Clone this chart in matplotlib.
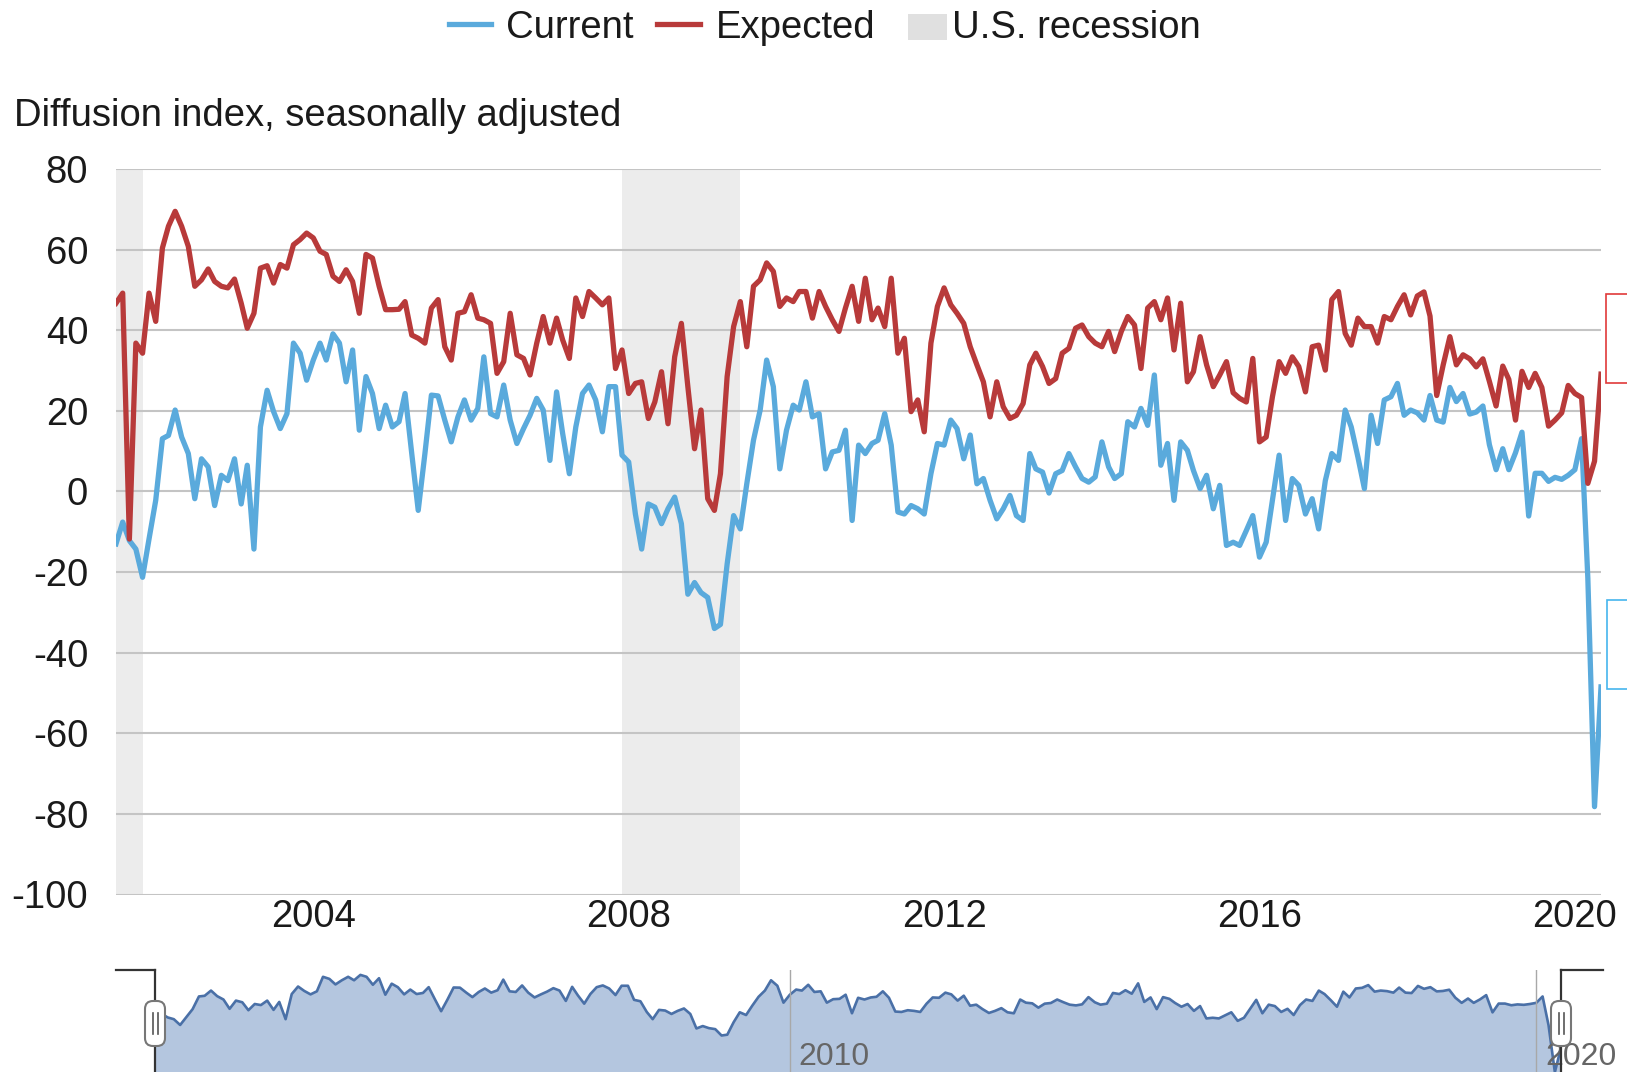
import numpy as np
import pandas as pd
import matplotlib
matplotlib.use("Agg")
import matplotlib.pyplot as plt
import matplotlib.dates as mdates
from matplotlib.lines import Line2D
from matplotlib.patches import Rectangle, FancyBboxPatch
from matplotlib.transforms import Affine2D, blended_transform_factory

plt.rcParams['font.family'] = ['Liberation Sans', 'DejaVu Sans']
plt.rcParams['axes.unicode_minus'] = False

# monthly data, Jul 2001 - May 2020
months = pd.date_range('2001-07-01', '2020-05-01', freq='MS')

current = [
    -13.0, -7.6, -12.2, -14.3, -21.3, -11.8,                               # 2001
    -2.2, 13.1, 13.9, 20.2, 13.5, 9.4, -1.8, 8.1, 6.1, -3.5, 4.0, 2.7,      # 2002
    8.1, -3.1, 6.5, -14.3, 16.0, 25.1, 19.8, 15.6, 19.3, 36.8, 34.3, 27.6,  # 2003
    32.6, 36.8, 32.6, 39.1, 36.8, 27.2, 35.1, 15.2, 28.5, 24.3, 15.6, 21.4,  # 2004
    16.0, 17.3, 24.3, 9.4, -4.7, 9.4, 23.9, 23.7, 17.7, 12.3, 18.5, 22.7,   # 2005
    17.7, 20.6, 33.4, 19.3, 18.5, 26.4, 17.7, 11.9, 15.6, 18.9, 23.1, 20.2,  # 2006
    7.7, 24.7, 14.4, 4.4, 16.0, 24.3, 26.4, 22.7, 14.8, 26.0, 26.0, 9.0,    # 2007
    7.3, -5.6, -14.3, -3.1, -3.9, -8.0, -4.3, -1.4, -8.0, -25.5, -22.6, -25.1,  # 2008
    -26.3, -34.0, -33.0, -18.0, -6.0, -9.3, 1.9, 12.7, 20.2, 32.6, 26.0, 5.6,   # 2009
    15.2, 21.4, 20.2, 27.2, 18.5, 19.3, 5.6, 9.8, 10.2, 15.2, -7.2, 11.5,   # 2010
    9.4, 11.9, 12.7, 19.3, 11.5, -5.1, -5.6, -3.5, -4.3, -5.6, 4.4, 11.9,   # 2011
    11.5, 17.7, 15.6, 8.1, 14.0, 1.9, 3.2, -2.2, -6.8, -4.3, -1.0, -6.0,    # 2012
    -7.2, 9.4, 5.6, 4.8, -0.4, 4.4, 5.2, 9.4, 6.1, 3.2, 2.3, 3.6,          # 2013
    12.3, 6.1, 3.2, 4.4, 17.3, 16.0, 20.6, 16.4, 28.9, 6.5, 11.9, -2.2,     # 2014
    12.3, 10.2, 5.2, 0.7, 4.0, -4.3, 1.5, -13.4, -12.6, -13.4, -9.7, -6.0,  # 2015
    -16.3, -12.6, -2.2, 9.0, -7.2, 3.2, 1.5, -5.6, -1.8, -9.3, 2.7, 9.4,    # 2016
    7.7, 20.2, 16.0, 8.5, 0.7, 18.9, 11.9, 22.7, 23.5, 26.8, 18.9, 20.2,    # 2017
    19.5, 17.7, 23.8, 17.7, 17.2, 25.8, 22.3, 24.3, 19.2, 19.7, 21.2, 11.6,  # 2018
    5.4, 10.6, 5.4, 9.6, 14.7, -6.1, 4.5, 4.5, 2.5, 3.5, 3.0, 4.0,          # 2019
    5.4, 13.1, -21.5, -78.2, -48.5,                                        # 2020
]

expected = [
    46.7, 49.2, -11.8, 36.8, 34.3, 49.2,
    42.2, 60.4, 65.8, 69.5, 65.8, 60.8, 50.9, 52.5, 55.2, 52.1, 50.9, 50.5,
    52.7, 46.7, 40.5, 44.2, 55.4, 56.0, 51.7, 56.3, 55.4, 61.2, 62.5, 64.1,
    62.9, 59.6, 58.8, 53.4, 52.1, 55.0, 52.1, 44.2, 58.8, 57.9, 50.9, 45.1,
    45.1, 45.2, 47.1, 38.8, 38.0, 36.8, 45.5, 47.6, 35.9, 32.6, 44.2, 44.6,
    48.8, 43.0, 42.6, 41.7, 29.3, 32.2, 44.2, 33.9, 33.0, 28.9, 36.8, 43.4,
    36.8, 43.0, 37.6, 33.0, 48.0, 43.4, 49.6, 48.0, 46.3, 48.0, 30.5, 35.1,
    24.3, 26.8, 27.2, 18.1, 22.2, 29.7, 16.8, 33.4, 41.7, 26.0, 10.6, 20.2,
    -1.8, -4.7, 4.4, 28.5, 40.9, 47.1, 35.9, 50.9, 52.5, 56.7, 54.6, 45.9,
    48.0, 47.1, 49.6, 49.6, 43.0, 49.6, 45.9, 42.6, 39.7, 45.5, 50.9, 42.2,
    52.9, 42.6, 45.5, 40.9, 52.9, 34.3, 38.0, 19.8, 22.7, 14.8, 36.8, 45.9,
    50.5, 46.3, 44.2, 41.7, 35.9, 31.4, 27.2, 18.5, 27.2, 21.0, 18.1, 18.9,
    21.8, 31.4, 34.3, 31.0, 26.8, 28.0, 34.3, 35.5, 40.5, 41.3, 38.4, 36.8,
    35.9, 39.7, 34.7, 39.7, 43.4, 41.3, 30.5, 45.5, 47.1, 42.6, 48.0, 35.1,
    46.7, 27.2, 29.7, 38.4, 31.4, 26.0, 28.9, 32.2, 24.5, 23.1, 22.2, 33.0,
    12.3, 13.5, 23.5, 32.2, 29.3, 33.4, 31.0, 24.7, 35.9, 36.3, 30.1, 47.6,
    49.6, 39.2, 36.3, 43.0, 40.9, 40.9, 36.8, 43.4, 42.6, 45.9, 48.8, 43.8,
    48.5, 49.5, 43.5, 23.8, 31.4, 38.4, 31.4, 33.9, 32.9, 30.9, 32.9, 27.3,
    21.2, 31.1, 27.8, 17.7, 29.8, 25.8, 29.3, 25.8, 16.2, 17.7, 19.5, 26.3,
    24.3, 23.3, 2.0, 7.5, 29.1,
]

recessions = [('2001-03-01', '2001-11-01'), ('2007-12-01', '2009-06-01')]
yticks = list(range(-100, 81, 20))
nav_years = [2010, 2020]

blue = '#5aaadc'
red = '#b83a3a'
shade = '#ececec'
txt = '#1a1a1a'
fs = 27.5

W, H, dpi = 1627, 1072, 100
fig = plt.figure(figsize=(W / dpi, H / dpi), dpi=dpi)
T = Affine2D().scale(1 / dpi) + fig.dpi_scale_trans   # pixel coords, origin bottom-left


def P(y):
    return H - y


# main chart
ax = fig.add_axes([116 / W, 1 - 894.5 / H, (1601 - 116) / W, (894.5 - 169) / H])
for a, b in recessions:
    ax.axvspan(pd.Timestamp(a), pd.Timestamp(b), color=shade, lw=0, zorder=0)
ax.plot(months, current, color=blue, lw=3.8, zorder=3)
ax.plot(months, expected, color=red, lw=3.8, zorder=4)
ax.set_xlim(months[0], months[-1])
ax.set_ylim(-100, 80)
ax.set_yticks(yticks)
ax.grid(axis='y', color='#c4c4c4', lw=1.5)
ax.set_axisbelow(True)
ax.xaxis.set_major_locator(mdates.YearLocator(4))
ax.xaxis.set_major_formatter(mdates.DateFormatter('%Y'))
for s in ax.spines.values():
    s.set_visible(False)
ax.tick_params(axis='y', length=0, labelsize=fs, pad=20, labelcolor=txt)
ax.tick_params(axis='x', length=0, labelsize=fs, pad=3, labelcolor=txt)

fig.text(14 / W, P(125.5) / H, 'Diffusion index, seasonally adjusted',
         fontsize=fs, ha='left', va='baseline', color=txt)

# legend
ly = P(24)
fig.add_artist(Line2D([449, 491], [ly, ly], color=blue, lw=3.8, transform=T))
fig.text(506 / W, P(37.5) / H, 'Current', fontsize=fs, va='baseline', color=txt)
fig.add_artist(Line2D([657, 700], [ly, ly], color=red, lw=3.8, transform=T))
fig.text(716 / W, P(37.5) / H, 'Expected', fontsize=fs, va='baseline', color=txt)
fig.add_artist(Rectangle((908, P(39.5)), 39, 26, color='#e0e0e0', lw=0, transform=T))
fig.text(952 / W, P(37.5) / H, 'U.S. recession', fontsize=fs, va='baseline', color=txt)

# cut-off tooltip boxes at the right edge
fig.add_artist(Rectangle((1606, P(383)), 40, 89, fc='white', ec='#e03a3a', lw=1.2, transform=T))
fig.add_artist(Rectangle((1607, P(689)), 40, 89, fc='white', ec='#45b5ee', lw=1.2, transform=T))

# navigator
nav = fig.add_axes([155 / W, 0, (1561 - 155) / W, (1072 - 970) / H])
nav.fill_between(months, current, -100, color='#b4c6df', lw=0)
nav.plot(months, current, color='#4a70a7', lw=1.9)
nav.set_xlim(months[0], months[-1])
nav.set_ylim(-78, 45)
nav.axis('off')
tr = blended_transform_factory(nav.transData, nav.transAxes)
for yr in nav_years:
    d = pd.Timestamp(f'{yr}-01-01')
    nav.axvline(d, color='#a8a8a8', lw=1)
    nav.text(mdates.date2num(d) + 44, 0.07, str(yr), transform=tr, fontsize=23,
             color='#666666', va='baseline', ha='left')

# navigator handles
for hx, x0, x1 in [(155, 116, 155), (1561, 1561, 1603)]:
    fig.add_artist(Line2D([x0, x1], [P(970), P(970)], color='#333333', lw=1.6, transform=T))
    fig.add_artist(Line2D([hx, hx], [P(970), 0], color='#333333', lw=1.6, transform=T))
    fig.add_artist(FancyBboxPatch((hx - 10, P(1046)), 20, 45,
                                  boxstyle='round,pad=0,rounding_size=8',
                                  fc='white', ec='#777777', lw=1.5, transform=T, zorder=5))
    for dx in (-2.5, 2.5):
        fig.add_artist(Line2D([hx + dx, hx + dx], [P(1013), P(1034)], color='#555555',
                              lw=1.2, transform=T, zorder=6))

fig.savefig('out.png', dpi=dpi)
